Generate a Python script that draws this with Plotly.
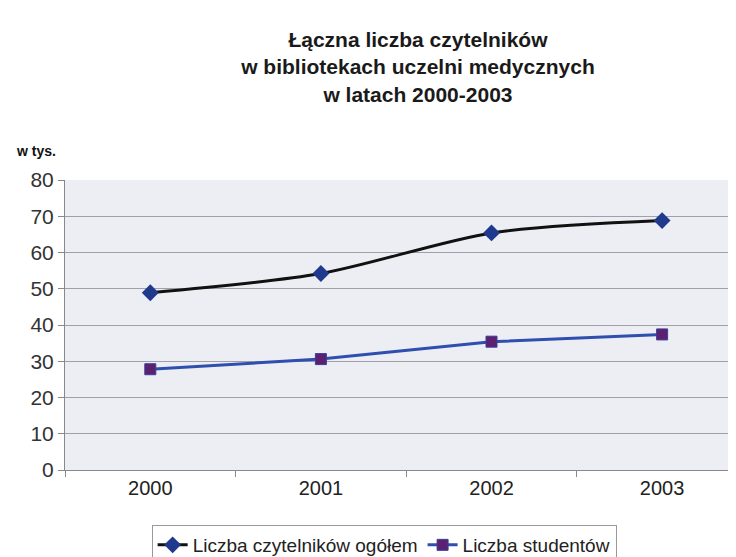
import plotly.graph_objects as go

years = ["2000", "2001", "2002", "2003"]
ogolem = [48.9, 54.2, 65.4, 68.8]
studenci = [27.8, 30.6, 35.4, 37.4]
y_ticks = [0, 10, 20, 30, 40, 50, 60, 70, 80]

FONT = "Liberation Sans, Arial, sans-serif"

fig = go.Figure()
fig.add_trace(go.Scatter(
    x=years, y=ogolem, name="Liczba czytelników ogółem",
    mode="lines+markers",
    line=dict(color="#111111", width=3, shape="spline", smoothing=0.8),
    marker=dict(symbol="diamond", size=13, color="#1f3a8c"),
))
fig.add_trace(go.Scatter(
    x=years, y=studenci, name="Liczba studentów",
    mode="lines+markers",
    line=dict(color="#2f4fae", width=3),
    marker=dict(symbol="square", size=11, color="#5b2070",
                line=dict(color="#3a3f9a", width=1)),
))

fig.update_layout(
    width=736, height=557,
    margin=dict(l=57, r=0, t=172, b=89),
    paper_bgcolor="white",
    plot_bgcolor="#ededf4",
    font=dict(family=FONT, color="#222222"),
    title=dict(
        text="<b>Łączna liczba czytelników<br>w bibliotekach uczelni medycznych<br>w latach 2000-2003</b>",
        x=0.557, xanchor="center", xref="container",
        y=0.93, yanchor="middle", yref="container",
        font=dict(size=21, color="#1a1a1a"),
    ),
    showlegend=True,
    legend=dict(
        orientation="h", x=0.47, xanchor="center", y=-0.19, yanchor="top",
        bordercolor="#999999", borderwidth=1, bgcolor="white",
        font=dict(size=19, color="#222222"),
        tracegroupgap=0,
    ),
    annotations=[dict(
        text="<b>w tys.</b>", xref="paper", yref="paper",
        x=-0.075, y=1.10, xanchor="left", yanchor="middle",
        showarrow=False, font=dict(size=14, color="#111111"),
    )],
)

fig.update_xaxes(
    type="category", range=[-0.5, 3.48], automargin=False,
    showgrid=False, showline=True, linecolor="#888888", linewidth=1,
    ticks="outside", tickson="boundaries", ticklen=6, tickcolor="#888888",
    tickfont=dict(size=20, color="#222222"),
)
fig.update_yaxes(
    range=[0, 80], tickvals=y_ticks, automargin=False,
    showgrid=True, gridcolor="#a0a0a8", gridwidth=1,
    showline=True, linecolor="#888888", linewidth=1,
    ticks="outside", ticklen=6, tickcolor="#888888",
    tickfont=dict(size=21, color="#333333"),
    zeroline=False,
)

fig.write_html("out.html")
